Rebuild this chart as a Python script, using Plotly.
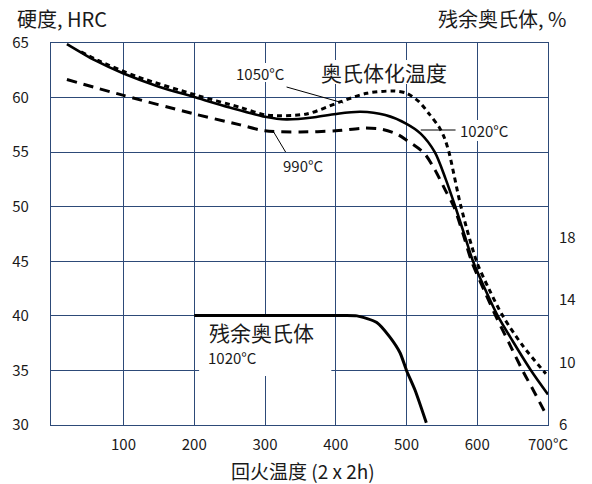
import plotly.graph_objects as go

# ---------------- data ----------------
temp_1020 = [20, 60, 100, 150, 200, 250, 300, 330, 370, 400, 435, 470, 500, 520, 540, 555, 569, 582, 594, 610, 629, 650, 676, 700]
hrc_1020 = [64.9, 63.4, 62.2, 61.0, 60.05, 59.1, 58.25, 58.0, 58.2, 58.5, 58.7, 58.4, 57.6, 56.7, 55.0, 52.6, 50.0, 47.4, 45.0, 42.6, 40.0, 37.7, 35.0, 32.8]

temp_1050 = [40, 64, 120, 204, 265, 302, 359, 406, 444, 482, 500, 518, 532, 546, 553, 560, 577, 599, 617, 636, 665, 697]
hrc_1050 = [64.2, 63.4, 61.9, 60.2, 59.1, 58.4, 58.5, 59.6, 60.4, 60.6, 60.4, 59.6, 58.5, 57.3, 56.4, 55.0, 50.0, 45.0, 42.4, 40.0, 37.2, 34.7]

temp_990 = [20, 100, 200, 265, 300, 350, 400, 440, 465, 485, 500, 525, 540, 555, 567, 580, 592, 610, 626, 645, 664, 680, 697]
hrc_990 = [61.65, 60.2, 58.5, 57.5, 56.95, 56.85, 56.95, 57.2, 57.1, 56.7, 56.1, 54.9, 53.4, 51.5, 50.0, 47.5, 45.0, 42.3, 40.0, 37.5, 35.0, 33.1, 31.0]

temp_ra = [200, 300, 400, 430, 458, 476, 491, 500, 512, 528]
ra_pct = [13.0, 13.0, 13.0, 12.98, 12.56, 11.65, 10.6, 9.48, 8.22, 6.12]

x_ticks = [100, 200, 300, 400, 500, 600, 700]
x_ticktext = ["100", "200", "300", "400", "500", "600", "700°C"]
y_ticks = [30, 35, 40, 45, 50, 55, 60, 65]
y2_ticks = [6, 10, 14, 18]

# ---------------- layout helpers (pixel -> axis units, for label placement only) ----------------
L, T, W, H = 48, 43, 500, 382
XR = [-2.5, 700]
YR = [30, 65]
Y2R = [5.98, 30.48]


def px2x(p):
    return XR[0] + (p - L) / W * (XR[1] - XR[0])


def px2y(p):
    return YR[1] - (p - T) / H * (YR[1] - YR[0])


def ppx(p):
    return (p - L) / W


def ppy(p):
    return (T + H - p) / H


GRID = "#2d4a78"
FONT = "Noto Sans CJK SC"
TXT = "#1a1a1a"

fig = go.Figure()

fig.add_trace(go.Scatter(x=temp_990, y=hrc_990, mode="lines",
                         line=dict(color="black", width=3, dash="10px,7px", shape="spline", smoothing=0.8),
                         hoverinfo="skip", showlegend=False))
fig.add_trace(go.Scatter(x=temp_1050, y=hrc_1050, mode="lines",
                         line=dict(color="black", width=3, dash="5px,4px", shape="spline", smoothing=0.8),
                         hoverinfo="skip", showlegend=False))
fig.add_trace(go.Scatter(x=temp_1020, y=hrc_1020, mode="lines",
                         line=dict(color="black", width=2.6, shape="spline", smoothing=0.8),
                         hoverinfo="skip", showlegend=False))
fig.add_trace(go.Scatter(x=temp_ra, y=ra_pct, mode="lines", yaxis="y2",
                         line=dict(color="black", width=3, shape="spline", smoothing=0.6),
                         hoverinfo="skip", showlegend=False))

shapes = []
# white patches hiding grid lines behind labels
for (x0, x1, y0, y1) in [(197, 330, 317, 376), (457, 511, 120, 141), (316, 450, 60, 84), (232, 286, 63, 82)]:
    shapes.append(dict(type="rect", xref="x", yref="y", layer="between",
                       x0=px2x(x0), x1=px2x(x1), y0=px2y(y1), y1=px2y(y0),
                       fillcolor="white", line=dict(width=0)))
# leader lines
for (a, b, c, d) in [(285, 87, 342, 103), (272, 132, 284, 152), (420, 130, 455, 130)]:
    shapes.append(dict(type="line", xref="x", yref="y", layer="above",
                       x0=px2x(a), y0=px2y(b), x1=px2x(c), y1=px2y(d),
                       line=dict(color="black", width=1)))

annotations = [
    dict(text="奥氏体化温度", x=px2x(383), y=px2y(72), xref="x", yref="y", showarrow=False,
         font=dict(size=21, family=FONT, color=TXT)),
    dict(text="1050°C", x=px2x(259), y=px2y(73), xref="x", yref="y", showarrow=False,
         font=dict(size=15, family=FONT, color=TXT)),
    dict(text="990°C", x=px2x(302), y=px2y(165), xref="x", yref="y", showarrow=False,
         font=dict(size=15, family=FONT, color=TXT)),
    dict(text="1020°C", x=px2x(484), y=px2y(130), xref="x", yref="y", showarrow=False,
         font=dict(size=15, family=FONT, color=TXT)),
    dict(text="残余奥氏体", x=px2x(205), y=px2y(332), xref="x", yref="y", showarrow=False,
         xanchor="left", font=dict(size=21, family=FONT, color=TXT)),
    dict(text="1020°C", x=px2x(204), y=px2y(357), xref="x", yref="y", showarrow=False,
         xanchor="left", font=dict(size=15, family=FONT, color=TXT)),
    dict(text="硬度, HRC", x=ppx(12), y=ppy(19), xref="paper", yref="paper",
         showarrow=False, xanchor="left", yanchor="middle", font=dict(size=20, family=FONT, color=TXT)),
    dict(text="残余奥氏体, %", x=ppx(568), y=ppy(19), xref="paper", yref="paper",
         showarrow=False, xanchor="right", yanchor="middle", font=dict(size=20, family=FONT, color=TXT)),
    dict(text="回火温度 (2 x 2h)", x=ppx(302), y=ppy(470), xref="paper", yref="paper",
         showarrow=False, xanchor="center", yanchor="middle", font=dict(size=19, family=FONT, color=TXT)),
]

fig.update_layout(
    width=592, height=484,
    margin=dict(l=L, r=592 - L - W, t=T, b=484 - T - H, pad=0),
    paper_bgcolor="white", plot_bgcolor="white",
    font=dict(family=FONT, size=15, color=TXT),
    xaxis=dict(range=XR, tickvals=x_ticks, ticktext=x_ticktext, showgrid=True, gridcolor=GRID, gridwidth=1.2,
               showline=True, mirror=True, linecolor=GRID, linewidth=1.2, zeroline=False, ticks="",
               ticklabelstandoff=6, tickfont=dict(size=15, family=FONT, color=TXT)),
    yaxis=dict(range=YR, tickvals=y_ticks, showgrid=True, gridcolor=GRID, gridwidth=1.2,
               showline=True, mirror=True, linecolor=GRID, linewidth=1.2, zeroline=False, ticks="",
               ticklabelstandoff=18, tickfont=dict(size=15, family=FONT, color=TXT)),
    yaxis2=dict(range=Y2R, tickvals=y2_ticks, overlaying="y", side="right", showgrid=False,
                showline=False, zeroline=False, ticks="", ticklabelstandoff=10,
                tickfont=dict(size=15, family=FONT, color=TXT)),
    shapes=shapes,
    annotations=annotations,
)

fig.write_html("out.html", config={"displayModeBar": False},
               post_script="document.body.style.margin='0';document.body.style.overflow='hidden';")
